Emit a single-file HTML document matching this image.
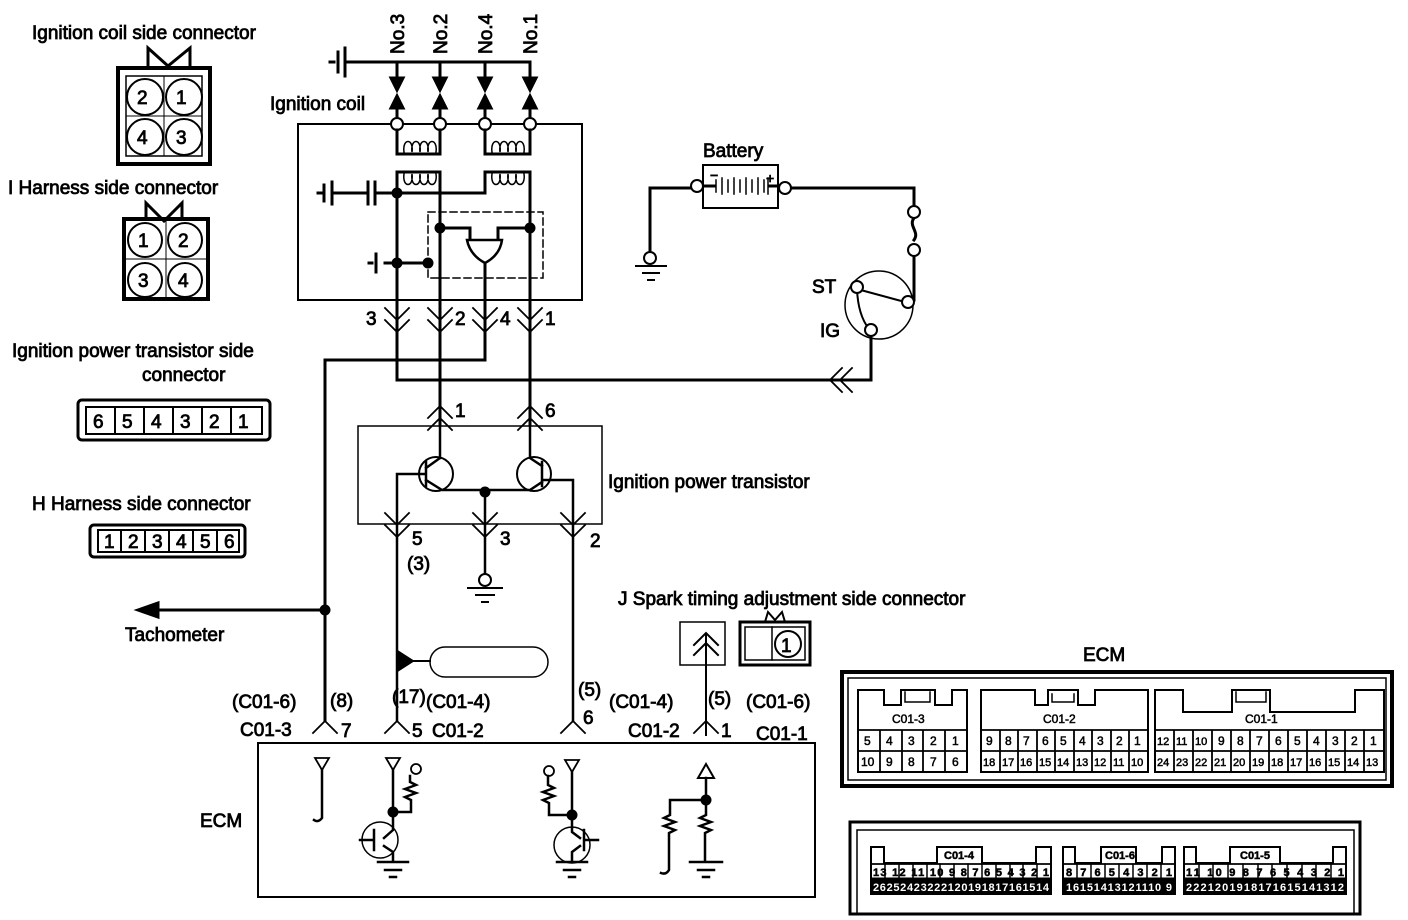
<!DOCTYPE html>
<html><head><meta charset="utf-8"><style>
html,body{margin:0;padding:0;background:#fff}
svg{display:block}
text{font-family:"Liberation Sans",Arial,sans-serif;fill:#000;stroke:#000;stroke-width:0.5}
.t{font-size:19px}
.t text{stroke-width:0.8}
.s{font-size:11px;font-weight:bold;stroke-width:0}
.w{fill:#fff;stroke:none}
</style></head><body>
<svg width="1408" height="920" viewBox="0 0 1408 920" xmlns="http://www.w3.org/2000/svg">
<g fill="none" stroke="#000" stroke-width="3" stroke-linecap="square">

<rect x="118" y="68" width="92" height="96" stroke-width="4"/>
<rect x="126" y="76" width="76" height="80" stroke-width="1.5"/>
<line x1="164" y1="76" x2="164" y2="156" stroke-width="1"/><line x1="126" y1="116" x2="202" y2="116" stroke-width="1"/>
<path d="M148 68 L148 48 L168 66 L190 48 L190 68" stroke-width="3"/>
<circle cx="145" cy="97" r="18" stroke-width="2"/><circle cx="184" cy="97" r="18" stroke-width="2"/>
<circle cx="145" cy="137" r="18" stroke-width="2"/><circle cx="184" cy="137" r="18" stroke-width="2"/>
<rect x="124" y="219" width="84" height="80" stroke-width="4"/>
<line x1="166" y1="219" x2="166" y2="299" stroke-width="1"/><line x1="124" y1="259" x2="208" y2="259" stroke-width="1"/>
<path d="M146 219 L146 203 L164 221 L182 203 L182 219" stroke-width="3"/>
<circle cx="145" cy="240" r="17" stroke-width="2"/><circle cx="185" cy="240" r="17" stroke-width="2"/>
<circle cx="145" cy="280" r="17" stroke-width="2"/><circle cx="185" cy="280" r="17" stroke-width="2"/>

<rect x="78" y="400" width="192" height="40" rx="4" stroke-width="3"/>
<rect x="86" y="407" width="176" height="27" stroke-width="2"/>
<path d="M115 407v27M144 407v27M173 407v27M202 407v27M231 407v27" stroke-width="2"/>
<rect x="90" y="525" width="155" height="32" rx="4" stroke-width="3"/>
<rect x="98" y="530" width="141" height="22" stroke-width="2"/>
<path d="M121 530v22M145 530v22M169 530v22M193 530v22M217 530v22" stroke-width="2"/>

<path d="M330 62h4M338 52v20M345 48v28" stroke-width="3"/>
<path d="M345 62 H530 V80 M397 62 V80 M440 62 V80 M485 62 V80" stroke-width="3"/>
<path d="M391 78h12l-6 12z M434 78h12l-6 12z M479 78h12l-6 12z M524 78h12l-6 12z" fill="#000"/>
<path d="M391 108h12l-6 -12z M434 108h12l-6 -12z M479 108h12l-6 -12z M524 108h12l-6 -12z" fill="#000"/>
<path d="M397 106V118M440 106V118M485 106V118M530 106V118"/>
<path d="M391 124 H298 V300 H582 V124 H536 M403 124 H434 M446 124 H479 M491 124 H524" stroke-width="2"/>
<circle cx="397" cy="124" r="6" stroke-width="2" fill="#fff"/><circle cx="440" cy="124" r="6" stroke-width="2" fill="#fff"/>
<circle cx="485" cy="124" r="6" stroke-width="2" fill="#fff"/><circle cx="530" cy="124" r="6" stroke-width="2" fill="#fff"/>
<path d="M397 130 V154 H440 V130 M485 130 V154 H530 V130" stroke-width="3"/>
<path d="M404 152 c-2 -14 10 -14 8 0 c-2 -14 10 -14 8 0 c-2 -14 10 -14 8 0 c-2 -14 10 -14 8 0 M492 152 c-2 -14 10 -14 8 0 c-2 -14 10 -14 8 0 c-2 -14 10 -14 8 0 c-2 -14 10 -14 8 0" stroke-width="1.5"/>
<path d="M397 380 V172 H440 V425 M485 193 V172 H530 V425" stroke-width="3"/>
<path d="M404 174 c-2 14 10 14 8 0 c-2 14 10 14 8 0 c-2 14 10 14 8 0 c-2 14 10 14 8 0 M492 174 c-2 14 10 14 8 0 c-2 14 10 14 8 0 c-2 14 10 14 8 0 c-2 14 10 14 8 0" stroke-width="1.5"/>
<path d="M375 193 H485" stroke-width="3"/>
<path d="M318 193h3M324 185v16M332 182v22M332 193H366M368 182v22M375 182v22" stroke-width="3"/>
<rect x="428" y="212" width="115" height="66" stroke-width="1.5" stroke-dasharray="7,4"/>
<path d="M440 228 H470 V240 M530 228 H498 V240" stroke-width="3"/>
<path d="M467 240 H502 Q500 255 485 263 Q470 255 467 240 Z" stroke-width="2.5" fill="#fff"/>
<path d="M485 263 V360 H325 V720" stroke-width="3"/>
<path d="M369 263h3M376 254v18M385 263 H428" stroke-width="3"/>
<circle cx="397" cy="193" r="4" fill="#000"/><circle cx="397" cy="263" r="4" fill="#000"/>
<circle cx="428" cy="263" r="4" fill="#000"/><circle cx="440" cy="228" r="4" fill="#000"/><circle cx="530" cy="228" r="4" fill="#000"/>
<path d="M385 308l12 12 12-12M385 320l12 12 12-12M428 308l12 12 12-12M428 320l12 12 12-12M473 308l12 12 12-12M473 320l12 12 12-12M518 308l12 12 12-12M518 320l12 12 12-12" stroke-width="1.8"/>
<path d="M397 380 H871 V336" stroke-width="3"/>
<path d="M842 368l-12 12 12 12M852 368l-12 12 12 12" stroke-width="1.8"/>
<rect x="703" y="165" width="75" height="43" stroke-width="2"/>
<path d="M650 258 V188 H691 M703 186 H714 M770 186 H779 M791 188 H914 V206 M914 218 c-6 8 6 14 0 22 M914 256 V300" stroke-width="3"/>
<path d="M716 180v12M722 178v16M728 180v12M734 178v16M740 180v12M746 178v16M752 180v12M758 178v16M764 180v12M768 178v16" stroke-width="1.5"/>
<circle cx="697" cy="186" r="6" stroke-width="2" fill="#fff"/><circle cx="785" cy="188" r="6" stroke-width="2" fill="#fff"/>
<circle cx="914" cy="212" r="6" stroke-width="2" fill="#fff"/><circle cx="914" cy="250" r="6" stroke-width="2" fill="#fff"/>
<circle cx="650" cy="258" r="6" stroke-width="2" fill="#fff"/>
<path d="M636 266h30M643 273h16M648 280h6" stroke-width="2"/>
<circle cx="879" cy="305" r="34" stroke-width="1.5"/>
<path d="M857 289 L905 302 M857 289 Q858 315 869 329" stroke-width="2"/>
<circle cx="857" cy="287" r="6" stroke-width="2" fill="#fff"/><circle cx="908" cy="302" r="6" stroke-width="2" fill="#fff"/><circle cx="871" cy="330" r="6" stroke-width="2" fill="#fff"/>

<rect x="358" y="426" width="244" height="98" stroke-width="1.5"/>
<path d="M428 418l12-12 12 12M428 430l12-12 12 12M518 418l12-12 12 12M518 430l12-12 12 12" stroke-width="1.8"/>
<circle cx="436" cy="474" r="17" stroke-width="2"/><circle cx="534" cy="474" r="17" stroke-width="2"/>
<path d="M440 425 V458 M426 462 v24 M426 468 L440 458 M426 480 L442 490 H530 L542 482 M542 462 v24 M530 425 V458 L542 466 M542 480 L573 480 V720 M426 474 H397 V720 M485 490 V580" stroke-width="2.5"/>
<circle cx="485" cy="492" r="4" fill="#000"/>
<path d="M385 513l12 12 12-12M385 525l12 12 12-12M473 513l12 12 12-12M473 525l12 12 12-12M561 513l12 12 12-12M561 525l12 12 12-12" stroke-width="1.8"/>
<circle cx="485" cy="580" r="6" stroke-width="2" fill="#fff"/>
<path d="M468 588h34M476 595h18M482 602h6" stroke-width="2"/>
<path d="M160 610 H325" stroke-width="3"/><path d="M138 610 l20 -7 v14z" fill="#000"/>
<circle cx="325" cy="610" r="4" fill="#000"/>
<rect x="430" y="647" width="118" height="30" rx="15" stroke-width="1.5"/>
<path d="M412 661 H430" stroke-width="2"/><path d="M398 652 L412 661 L398 670z" fill="#000"/>
<rect x="680" y="622" width="45" height="43" stroke-width="1.5"/>
<path d="M694 645l12-12 12 12M694 655l12-12 12 12M706 635 V735" stroke-width="2"/>
<rect x="740" y="622" width="70" height="43" stroke-width="3"/>
<rect x="745" y="627" width="60" height="33" stroke-width="1.5"/><line x1="772" y1="627" x2="772" y2="660" stroke-width="1.5"/>
<circle cx="788" cy="644" r="13" stroke-width="2"/>
<path d="M765 622 L768 612 L775 620 L782 612 L785 622" stroke-width="2"/>
<path d="M313 733l12-12 12 12M385 733l12-12 12 12M561 733l12-12 12 12M694 733l12-12 12 12" stroke-width="1.8"/>
<rect x="258" y="743" width="557" height="154" stroke-width="2"/>
<path d="M315 758h14l-7 12z M386 758h14l-7 12z M565 760h14l-7 12z" stroke-width="1.8"/>
<path d="M322 770V818 q-4 5 -8 2 M393 770V812H411V800 l-6-3 11-4-11-4 11-4-6-3V776" stroke-width="2.5"/>
<circle cx="416" cy="769" r="5" stroke-width="1.8"/><circle cx="549" cy="771" r="5" stroke-width="1.8"/>
<circle cx="380" cy="840" r="18" stroke-width="1.5"/><circle cx="572" cy="845" r="18" stroke-width="1.5"/>
<path d="M393 812 V830 L384 838 M374 830v20 M374 840 H360 M384 846 L393 852 V862 M378 862h30M385 870h16M390 877h6" stroke-width="2.5"/>
<path d="M572 772V815H549V803 l-6-3 11-4-11-4 11-4-6-3V776 M572 815 V832 L580 838 M584 830v20 M584 840 H598 M580 846 L572 852 V860 M557 862h30M564 870h16M569 877h6" stroke-width="2.5"/>
<circle cx="393" cy="812" r="4" fill="#000"/><circle cx="572" cy="815" r="4" fill="#000"/>
<path d="M706 778 l-8 0 8 -14 8 14z" stroke-width="2"/>
<path d="M706 778V800 H670 V815 l-6 3 11 4-11 4 11 4-6 3V870 q-3 5 -8 3 M706 800V815 l-6 3 11 4-11 4 11 4-6 3V860 M690 862h32M698 870h16M703 877h6" stroke-width="2.5"/>
<circle cx="706" cy="800" r="4" fill="#000"/>

<rect x="842" y="672" width="550" height="114" stroke-width="4"/>
<rect x="848" y="678" width="538" height="102" stroke-width="1.5"/>
<path d="M858 772 V690 H884 V705 H901 V690 H935 V705 H952 V690 H967 V772 Z" stroke-width="2"/>
<path d="M905 692 V702 H930 V692" stroke-width="1.5"/>
<path d="M981 772 V690 H1035 V705 H1048 V690 H1078 V705 H1095 V690 H1148 V772 Z" stroke-width="2"/>
<path d="M1052 694 V702 H1074 V694" stroke-width="1.5"/>
<path d="M1155 772 V690 H1183 V712 H1232 V690 H1270 V712 H1355 V690 H1384 V772 Z" stroke-width="2"/>
<path d="M1236 692 V702 H1266 V692" stroke-width="1.5"/>
<path d="M858 730 H967 M858 751 H967 M880 730v42M902 730v42M923 730v42M945 730v42" stroke-width="1.8"/>
<path d="M981 730 H1148 M981 751 H1148 M1000 730v42M1018 730v42M1037 730v42M1055 730v42M1074 730v42M1092 730v42M1111 730v42M1129 730v42" stroke-width="1.8"/>
<path d="M1155 730 H1384 M1155 751 H1384 M1174 730v42M1193 730v42M1212 730v42M1231 730v42M1250 730v42M1269 730v42M1288 730v42M1307 730v42M1326 730v42M1345 730v42M1364 730v42" stroke-width="1.8"/>

<rect x="850" y="822" width="510" height="92" stroke-width="3"/>
<rect x="857" y="830" width="497" height="84" stroke-width="1.5"/>
<path d="M871 894 V847 H884 V863 H937 V847 H982 V863 H1036 V847 H1051 V894 Z" stroke-width="2"/>
<path d="M1063 894 V847 H1075 V863 H1101 V847 H1136 V863 H1162 V847 H1175 V894 Z" stroke-width="2"/>
<path d="M1184 894 V847 H1196 V863 H1230 V847 H1280 V863 H1333 V847 H1346 V894 Z" stroke-width="2"/>
<rect x="871" y="878" width="180" height="16" fill="#000" stroke-width="1"/>
<rect x="1063" y="878" width="112" height="16" fill="#000" stroke-width="1"/>
<rect x="1184" y="878" width="162" height="16" fill="#000" stroke-width="1"/>
<path d="M871 864H1051M1063 864H1175M1184 864H1346" stroke-width="1.8"/>
<path d="M885 864v14M899 864v14M913 864v14M927 864v14M940 864v14M954 864v14M968 864v14M982 864v14M996 864v14M1010 864v14M1023 864v14M1037 864v14" stroke-width="1.5"/>
<path d="M1077 864v14M1091 864v14M1105 864v14M1119 864v14M1133 864v14M1147 864v14M1161 864v14" stroke-width="1.5"/>
<path d="M1199 864v14M1213 864v14M1228 864v14M1243 864v14M1258 864v14M1272 864v14M1287 864v14M1302 864v14M1316 864v14M1331 864v14" stroke-width="1.5"/>
</g>

<g class="t">
<text x="32" y="39">Ignition coil side connector</text>
<text x="8" y="194">I Harness side connector</text>
<text x="12" y="357">Ignition power transistor side</text>
<text x="142" y="381">connector</text>
<text x="32" y="510">H Harness side connector</text>
<text x="270" y="110">Ignition coil</text>
<text x="703" y="157">Battery</text>
<text x="812" y="293">ST</text>
<text x="820" y="337">IG</text>
<text x="608" y="488">Ignition power transistor</text>
<text x="125" y="641">Tachometer</text>
<text x="618" y="605">J Spark timing adjustment side connector</text>
<text x="1083" y="661">ECM</text>
<text x="200" y="827">ECM</text>
<text x="137" y="104">2</text><text x="176" y="104">1</text><text x="137" y="144">4</text><text x="176" y="144">3</text>
<text x="138" y="247">1</text><text x="178" y="247">2</text><text x="138" y="287">3</text><text x="178" y="287">4</text>
<text x="93" y="428">6</text><text x="122" y="428">5</text><text x="151" y="428">4</text><text x="180" y="428">3</text><text x="209" y="428">2</text><text x="238" y="428">1</text>
<text x="104" y="548">1</text><text x="128" y="548">2</text><text x="152" y="548">3</text><text x="176" y="548">4</text><text x="200" y="548">5</text><text x="224" y="548">6</text>
<text x="366" y="325">3</text><text x="455" y="325">2</text><text x="500" y="325">4</text><text x="545" y="325">1</text>
<text x="455" y="417">1</text><text x="545" y="417">6</text>
<text x="412" y="545">5</text><text x="407" y="570">(3)</text><text x="500" y="545">3</text><text x="590" y="547">2</text>
<text x="232" y="708">(C01-6)</text><text x="240" y="736">C01-3</text>
<text x="330" y="707">(8)</text><text x="341" y="737">7</text>
<text x="392" y="703">(17)</text><text x="426" y="708">(C01-4)</text>
<text x="412" y="737">5</text><text x="432" y="737">C01-2</text>
<text x="578" y="696">(5)</text><text x="583" y="724">6</text>
<text x="609" y="708">(C01-4)</text><text x="628" y="737">C01-2</text>
<text x="708" y="705">(5)</text><text x="721" y="737">1</text>
<text x="746" y="708">(C01-6)</text><text x="756" y="740">C01-1</text>
<text x="781" y="652">1</text>
<text x="766" y="183" style="font-size:14px">+</text><text x="710" y="180" style="font-size:14px">−</text>
<text transform="translate(404,54) rotate(-90)">No.3</text>
<text transform="translate(447,54) rotate(-90)">No.2</text>
<text transform="translate(492,54) rotate(-90)">No.4</text>
<text transform="translate(537,54) rotate(-90)">No.1</text>
</g>
<g style="font-size:12px">
<text x="892" y="723">C01-3</text><text x="1043" y="723">C01-2</text><text x="1245" y="723">C01-1</text>
<text x="864" y="745">5</text><text x="886" y="745">4</text><text x="908" y="745">3</text><text x="930" y="745">2</text><text x="952" y="745">1</text>
<text x="861" y="766">10</text><text x="886" y="766">9</text><text x="908" y="766">8</text><text x="930" y="766">7</text><text x="952" y="766">6</text>
<text x="986" y="745">9</text><text x="1005" y="745">8</text><text x="1023" y="745">7</text><text x="1042" y="745">6</text><text x="1060" y="745">5</text><text x="1079" y="745">4</text><text x="1097" y="745">3</text><text x="1116" y="745">2</text><text x="1134" y="745">1</text>
<text x="983" y="766" style="font-size:11px">18</text><text x="1002" y="766" style="font-size:11px">17</text><text x="1020" y="766" style="font-size:11px">16</text><text x="1039" y="766" style="font-size:11px">15</text><text x="1057" y="766" style="font-size:11px">14</text><text x="1076" y="766" style="font-size:11px">13</text><text x="1094" y="766" style="font-size:11px">12</text><text x="1113" y="766" style="font-size:11px">11</text><text x="1131" y="766" style="font-size:11px">10</text>
<text x="1157" y="745" style="font-size:11px">12</text><text x="1176" y="745" style="font-size:11px">11</text><text x="1195" y="745" style="font-size:11px">10</text><text x="1218" y="745">9</text><text x="1237" y="745">8</text><text x="1256" y="745">7</text><text x="1275" y="745">6</text><text x="1294" y="745">5</text><text x="1313" y="745">4</text><text x="1332" y="745">3</text><text x="1351" y="745">2</text><text x="1370" y="745">1</text>
<text x="1157" y="766" style="font-size:11px">24</text><text x="1176" y="766" style="font-size:11px">23</text><text x="1195" y="766" style="font-size:11px">22</text><text x="1214" y="766" style="font-size:11px">21</text><text x="1233" y="766" style="font-size:11px">20</text><text x="1252" y="766" style="font-size:11px">19</text><text x="1271" y="766" style="font-size:11px">18</text><text x="1290" y="766" style="font-size:11px">17</text><text x="1309" y="766" style="font-size:11px">16</text><text x="1328" y="766" style="font-size:11px">15</text><text x="1347" y="766" style="font-size:11px">14</text><text x="1366" y="766" style="font-size:11px">13</text>
</g>
<g class="s">
<text x="944" y="859">C01-4</text><text x="1105" y="859">C01-6</text><text x="1240" y="859">C01-5</text>
<text x="873" y="876" textLength="176">13 12 11 10  9  8  7  6  5  4  3  2  1</text>
<text x="1066" y="876" textLength="106">8  7  6  5  4  3  2  1</text>
<text x="1186" y="876" textLength="158">11 10  9  8  7  6  5  4  3  2  1</text>
<text class="w" x="873" y="891" textLength="176">26252423222120191817161514</text>
<text class="w" x="1066" y="891" textLength="106">16151413121110 9</text>
<text class="w" x="1186" y="891" textLength="158">2221201918171615141312</text>
</g>
</svg>
</body></html>
